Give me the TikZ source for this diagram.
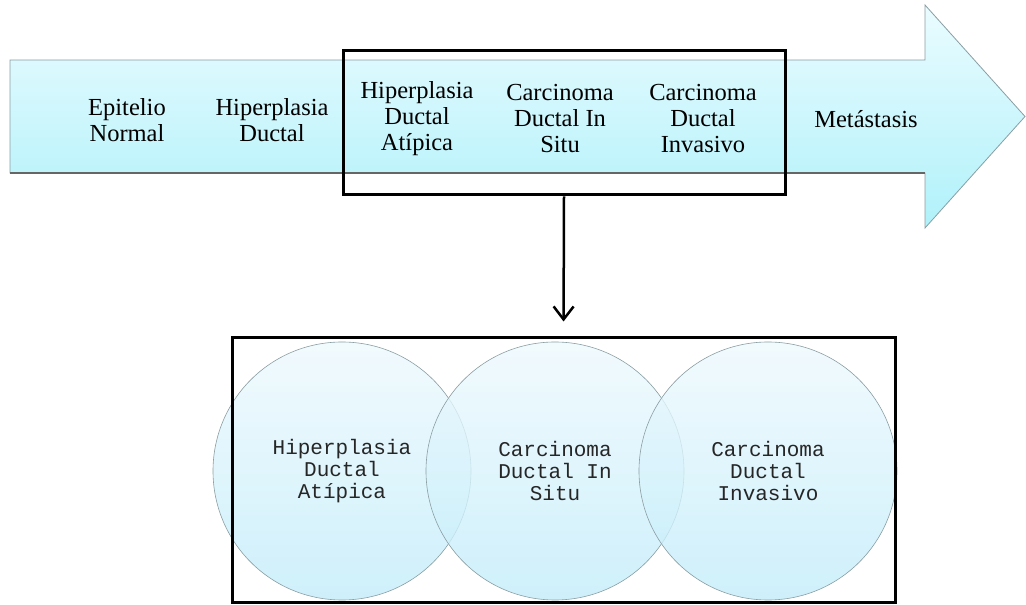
\documentclass[tikz,border=0pt]{standalone}
\usepackage{fontspec}
\setmainfont{Liberation Serif}
\newfontfamily\vennfont{Liberation Mono}
\usepackage{xcolor}
\usepackage{tikz}
\usetikzlibrary{arrows.meta}

\definecolor{arrowtop}{HTML}{EAFCFF}
\definecolor{arrowbot}{HTML}{B0F1FA}
\definecolor{circtop}{HTML}{EEF9FD}
\definecolor{circbot}{HTML}{C2ECFA}
\definecolor{edgegrey}{HTML}{8A9EA3}

\tikzset{
  stage/.style={align=center, font=\fontsize{24.5}{26}\selectfont, text=black},
  venncircle/.style={circle, inner sep=0pt, minimum size=258pt, draw=edgegrey,
    line width=0.6pt, top color=circtop, bottom color=circbot, fill opacity=0.8,
    text opacity=1, align=center, font=\vennfont\fontsize{21}{22}\selectfont, text=black!85},
  framebox/.style={draw, line width=3pt, inner sep=0pt},
}

\begin{document}
\begin{tikzpicture}[x=1pt, y=1pt]
      \useasboundingbox (0,0) rectangle (1026,605);
      % progression arrow
      \draw [draw=edgegrey, line width=0.8pt, top color=arrowtop, bottom color=arrowbot]
        (10,545) -- (925,545) -- (925,600) -- (1025,488.5) -- (925,377) -- (925,432) -- (10,432) -- cycle;
      \draw [black!60, line width=2pt] (10,432) -- (925,432);
      \node [stage] (normal) at (127,485) {Epitelio\\Normal};
      \node [stage] (hd) at (272,485) {Hiperplasia\\Ductal};
      \node [stage] (hda) at (417,486) {Hiperplasia\\Ductal\\Atípica};
      \node [stage] (cdis) at (560,486) {Carcinoma\\Ductal In\\Situ};
      \node [stage] (cdi) at (703,486) {Carcinoma\\Ductal\\Invasivo};
      \node [stage] (meta) at (866,486) {Metástasis};
      \node [framebox, minimum width=442pt, minimum height=144pt] (focus) at (564,482) {};
      % detail
      \node [venncircle] (hdaC) at (342,134) {Hiperplasia\\Ductal\\Atípica};
      \node [venncircle] (cdisC) at (555,134) {Carcinoma\\Ductal In\\Situ};
      \node [venncircle] (cdiC) at (768,134) {Carcinoma\\Ductal\\Invasivo};
      \node [framebox, minimum width=663pt, minimum height=265pt] (detail) at (563.5,134.5) {};
      \draw [-{Straight Barb[length=13pt, width=20pt]}, line width=2.5pt, shorten >=15pt] (focus.south) -- (detail.north);
    \end{tikzpicture}
\end{document}
